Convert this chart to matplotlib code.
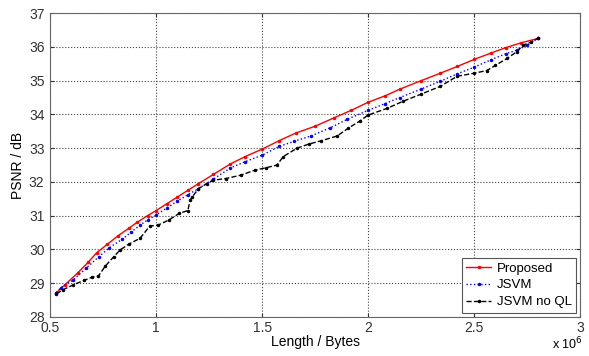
import matplotlib
matplotlib.use('Agg')
import matplotlib.pyplot as plt

plt.rcParams['font.family'] = ['Liberation Sans', 'DejaVu Sans']

# lengths in units of 1e6 bytes, PSNR in dB
prop_x = [0.53, 0.57, 0.63, 0.68, 0.72, 0.77, 0.82, 0.87, 0.91, 0.96, 1.00, 1.05,
          1.10, 1.15, 1.20, 1.27, 1.35, 1.42, 1.50, 1.58, 1.66, 1.75, 1.84, 1.92,
          2.00, 2.08, 2.15, 2.25, 2.34, 2.42, 2.50, 2.58, 2.65, 2.72, 2.80]
prop_y = [28.72, 28.95, 29.3, 29.62, 29.9, 30.15, 30.4, 30.62, 30.8, 31.0, 31.15, 31.35,
          31.55, 31.75, 31.95, 32.22, 32.53, 32.75, 32.97, 33.22, 33.45, 33.65, 33.9, 34.12,
          34.36, 34.55, 34.75, 35.0, 35.22, 35.42, 35.63, 35.82, 35.98, 36.12, 36.25]

jsvm_x = [0.53, 0.55, 0.61, 0.67, 0.73, 0.78, 0.84, 0.88, 0.925, 0.96, 1.00, 1.05,
          1.10, 1.15, 1.20, 1.27, 1.35, 1.42, 1.50, 1.58, 1.65, 1.73, 1.82, 1.90,
          2.00, 2.08, 2.15, 2.25, 2.34, 2.42, 2.50, 2.58, 2.65, 2.70, 2.75, 2.80]
jsvm_y = [28.72, 28.86, 29.1, 29.44, 29.78, 30.05, 30.3, 30.5, 30.72, 30.87, 31.02, 31.22,
          31.43, 31.62, 31.8, 32.08, 32.41, 32.6, 32.79, 33.05, 33.2, 33.36, 33.6, 33.85,
          34.12, 34.32, 34.5, 34.75, 34.98, 35.2, 35.4, 35.62, 35.8, 35.9, 36.05, 36.25]

noql_x = [0.53, 0.56, 0.61, 0.66, 0.70, 0.727, 0.76, 0.80, 0.83, 0.87, 0.925, 0.97,
          1.01, 1.06, 1.11, 1.15, 1.16, 1.17, 1.20, 1.24, 1.27, 1.33, 1.40, 1.467,
          1.52, 1.57, 1.60, 1.665, 1.72, 1.78, 1.854, 1.906, 1.96, 2.00, 2.09, 2.165,
          2.25, 2.34, 2.42, 2.50, 2.56, 2.60, 2.655, 2.70, 2.73, 2.77, 2.80]
noql_y = [28.68, 28.8, 28.95, 29.08, 29.18, 29.2, 29.5, 29.78, 29.98, 30.15, 30.33, 30.69,
          30.72, 30.87, 31.07, 31.15, 31.45, 31.55, 31.8, 31.95, 32.05, 32.1, 32.2, 32.35,
          32.42, 32.5, 32.75, 33.0, 33.12, 33.22, 33.36, 33.59, 33.8, 33.98, 34.18, 34.39,
          34.6, 34.83, 35.13, 35.22, 35.3, 35.45, 35.66, 35.85, 36.05, 36.15, 36.25]

xticks = [0.5, 1, 1.5, 2, 2.5, 3]
xticklabels = ['0.5', '1', '1.5', '2', '2.5', '3']
yticks = list(range(28, 38))

fig = plt.figure(figsize=(5.89, 3.56), dpi=100)
ax = fig.add_axes([0.085, 0.11, 0.9, 0.853])

ax.plot(prop_x, prop_y, '-', color='red', marker='.', markersize=3, lw=1, label='Proposed')
ax.plot(jsvm_x, jsvm_y, ':', color='blue', marker='.', markersize=3, lw=1, label='JSVM')
ax.plot(noql_x, noql_y, '--', color='black', marker='.', markersize=3, lw=1, label='JSVM no QL')

ax.set_xlim(0.5, 3)
ax.set_ylim(28, 37)
ax.set_xticks(xticks)
ax.set_xticklabels(xticklabels)
ax.set_yticks(yticks)
ax.grid(True, color='#444444', linestyle=':', linewidth=0.8)
ax.tick_params(direction='in', top=True, right=True, labelsize=10, length=3,
               colors='#333333')
ax.tick_params(axis='x', pad=3)
ax.tick_params(axis='y', pad=4)
for s in ax.spines.values():
    s.set_color('#666666')

ax.set_xlabel('Length / Bytes', fontsize=10, labelpad=0)
ax.set_ylabel('PSNR / dB', fontsize=10, labelpad=3)
fig.text(583 / 589, 1 - 352 / 356, 'x 10$^6$', ha='right', va='bottom', fontsize=9)

leg = ax.legend(loc='lower right', fontsize=9.5, fancybox=False, framealpha=1,
                borderaxespad=0.3, handlelength=1.9, handletextpad=0.4,
                labelspacing=0.35, borderpad=0.35)
leg.get_frame().set_edgecolor('#555555')
leg.get_frame().set_linewidth(0.8)

fig.savefig('out.png', dpi=100)
